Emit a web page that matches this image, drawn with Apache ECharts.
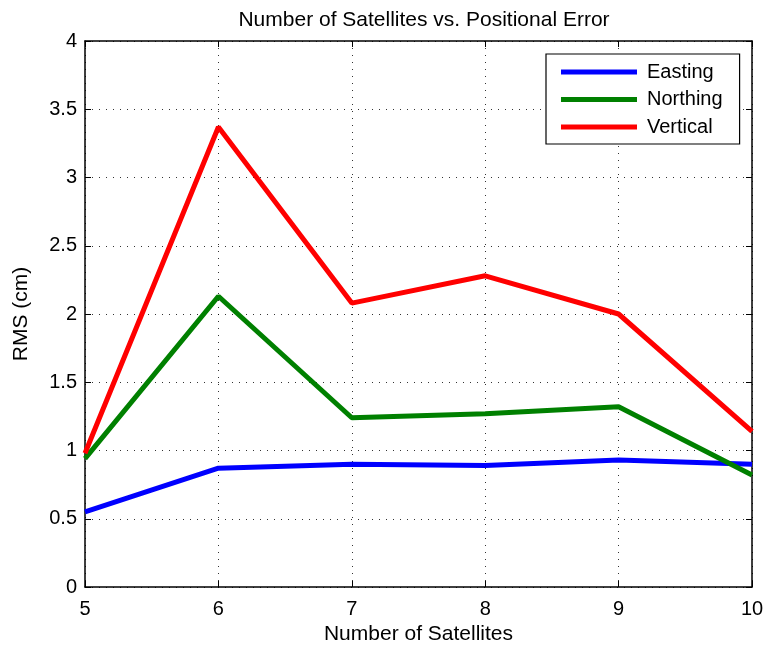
<!DOCTYPE html>
<html>
<head>
<meta charset="utf-8">
<script src="https://cdn.jsdelivr.net/npm/echarts@6/dist/echarts.min.js"></script>
<style>
  html, body { margin: 0; padding: 0; background: #fff; }
  #chart { width: 768px; height: 647px; }
</style>
</head>
<body>
<div id="chart"></div>
<script>
// Satellite counts on the x axis
const satellites = [5, 6, 7, 8, 9, 10];
// RMS positional error (cm) per component
const easting  = [0.55, 0.87, 0.90, 0.89, 0.93, 0.90];
const northing = [0.94, 2.13, 1.24, 1.27, 1.32, 0.82];
const vertical = [0.98, 3.37, 2.08, 2.28, 2.00, 1.14];

const FONT = 'Liberation Sans, Arial, Helvetica, sans-serif';

function pairs(ys) { return satellites.map((x, i) => [x, ys[i]]); }

const chart = echarts.init(document.getElementById('chart'));

const gridLine = { show: true, lineStyle: { color: '#000', type: [1, 6], width: 1, opacity: 0.8 } };
const axisLine = { show: true, onZero: false, lineStyle: { color: '#000', width: 1.5 } };
const tickIn = { show: true, inside: true, length: 6, lineStyle: { color: '#000', width: 1 } };

chart.setOption({
  animation: false,
  backgroundColor: '#fff',
  title: {
    text: 'Number of Satellites vs. Positional Error',
    left: 419, top: 5, textAlign: 'center',
    textStyle: { fontFamily: FONT, fontSize: 21, fontWeight: 'normal', color: '#000' }
  },
  grid: { left: 85, right: 16, top: 41, bottom: 60, outerBoundsMode: 'none', containLabel: false },
  legend: {
    data: ['Easting', 'Northing', 'Vertical'],
    orient: 'vertical',
    left: 546, top: 54,
    padding: [8, 17, 7, 15],
    itemGap: 7.5,
    itemWidth: 76, itemHeight: 20,
    borderColor: '#000', borderWidth: 1.2,
    backgroundColor: '#fff',
    icon: 'path://M0,0 L76,0 L76,5 L0,5 Z',
    textStyle: { fontFamily: FONT, fontSize: 20, lineHeight: 20, color: '#000', padding: [0, 0, 0, 5] }
  },
  xAxis: [{
    type: 'value', min: 5, max: 10, interval: 1,
    name: 'Number of Satellites', nameLocation: 'middle', nameGap: 36,
    nameTextStyle: { fontFamily: FONT, fontSize: 21, color: '#000' },
    axisLine, axisTick: tickIn, splitLine: gridLine,
    axisLabel: { fontFamily: FONT, fontSize: 20, color: '#000', margin: 12 }
  }, {
    type: 'value', min: 5, max: 10, interval: 1, position: 'top',
    axisLine, axisTick: tickIn, splitLine: { show: false }, axisLabel: { show: false }
  }],
  yAxis: [{
    type: 'value', min: 0, max: 4, interval: 0.5,
    name: 'RMS (cm)', nameLocation: 'middle', nameGap: 53,
    nameTextStyle: { fontFamily: FONT, fontSize: 21, color: '#000' },
    axisLine, axisTick: tickIn, splitLine: gridLine,
    axisLabel: { fontFamily: FONT, fontSize: 20, color: '#000', margin: 8 }
  }, {
    type: 'value', min: 0, max: 4, interval: 0.5, position: 'right',
    axisLine, axisTick: tickIn, splitLine: { show: false }, axisLabel: { show: false }
  }],
  series: [
    { name: 'Easting', type: 'line', data: pairs(easting), showSymbol: false,
      color: '#0000ff', lineStyle: { width: 5, color: '#0000ff' } },
    { name: 'Northing', type: 'line', data: pairs(northing), showSymbol: false,
      color: '#008000', lineStyle: { width: 5, color: '#008000' } },
    { name: 'Vertical', type: 'line', data: pairs(vertical), showSymbol: false,
      color: '#ff0000', lineStyle: { width: 5, color: '#ff0000' } }
  ]
});
</script>
</body>
</html>
